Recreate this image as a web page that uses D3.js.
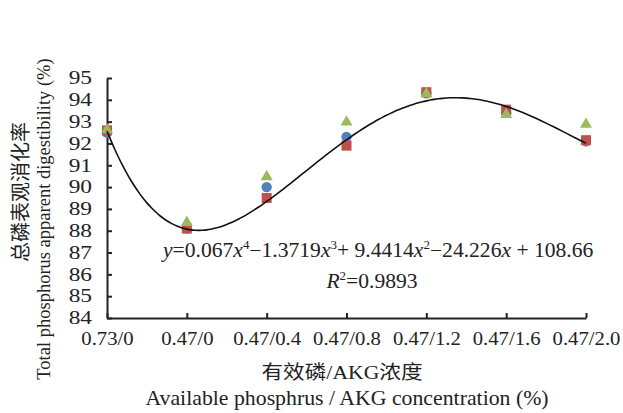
<!DOCTYPE html>
<html>
<head>
<meta charset="utf-8">
<script src="https://cdn.jsdelivr.net/npm/d3@7"></script>
<style>
  body { margin: 0; background: #fff; }
  svg text { font-family: "Liberation Serif", "Times New Roman", "DejaVu Serif", "Noto Sans CJK SC", serif; fill: #222; }
</style>
</head>
<body>
<svg id="chart" width="623" height="413"></svg>
<script>
// categories on the x axis (available P / AKG level)
const categories = ['0.73/0', '0.47/0', '0.47/0.4', '0.47/0.8', '0.47/1.2', '0.47/1.6', '0.47/2.0'];

// three replicates
const seriesBlue = [92.5, 88.1, 90.0, 92.3, 94.3, 93.4, 92.1];
const seriesRed = [92.6, 88.1, 89.5, 91.9, 94.35, 93.55, 92.15];
const seriesGreen = [92.65, 88.4, 90.5, 93.0, 94.3, 93.35, 92.9];

const yTicks = [84, 85, 86, 87, 88, 89, 90, 91, 92, 93, 94, 95];

// trendline y = 0.067x^4 - 1.3719x^3 + 9.4414x^2 - 24.226x + 108.66 (x = 1..7)
const trendCoef = [0.067, -1.3719, 9.4414, -24.226, 108.66];

const svg = d3.select('#chart');

const x = d3.scalePoint().domain(categories).range([107, 586]);
const xIdx = d3.scaleLinear().domain([1, categories.length]).range([107, 586]);
const y = d3.scaleLinear().domain([84, 95]).range([318, 78]);

// axes
const xAxis = svg.append('g')
  .attr('transform', 'translate(0,318)')
  .call(d3.axisBottom(x).tickSizeInner(-5).tickSizeOuter(0).tickPadding(14));
const yAxis = svg.append('g')
  .attr('transform', 'translate(107,0)')
  .call(d3.axisLeft(y).tickValues(yTicks).tickFormat(d3.format('d')).tickSizeInner(-5).tickSizeOuter(0).tickPadding(15));

[xAxis, yAxis].forEach(g => {
  g.attr('font-family', null);
  g.select('.domain').attr('stroke', '#222').attr('stroke-width', 2);
  g.selectAll('.tick line').attr('stroke', '#222').attr('stroke-width', 2);
  g.selectAll('.tick text').attr('fill', '#222');
});
// text in the picture is a bit wide, so stretch it horizontally
xAxis.attr('font-size', 18.5);
xAxis.selectAll('.tick text').attr('transform', 'scale(1.12,1)');
yAxis.attr('font-size', 18);
yAxis.selectAll('.tick text')
  .attr('x', -15 / 1.3)
  .attr('transform', 'scale(1.3,1)');

// markers: circles, then squares, then triangles on top
const plot = svg.append('g');
plot.selectAll('circle').data(seriesBlue).enter().append('circle')
  .attr('cx', (d, i) => x(categories[i]))
  .attr('cy', d => y(d))
  .attr('r', 5.2)
  .attr('fill', '#4f81bd');

plot.selectAll('rect').data(seriesRed).enter().append('rect')
  .attr('x', (d, i) => x(categories[i]) - 5)
  .attr('y', d => y(d) - 5)
  .attr('width', 10)
  .attr('height', 10)
  .attr('fill', '#c0504d');

const tri = d3.symbol().type(d3.symbolTriangle).size(62);
plot.selectAll('path.tri').data(seriesGreen).enter().append('path')
  .attr('class', 'tri')
  .attr('d', tri)
  .attr('transform', (d, i) => `translate(${x(categories[i])},${y(d) + 0.5})`)
  .attr('fill', '#9bbb59');

// polynomial trendline
const poly = t => trendCoef.reduce((acc, c) => acc * t + c, 0);
const steps = d3.range(1, categories.length + 0.001, 0.05);
const line = d3.line()
  .x(t => xIdx(t))
  .y(t => y(poly(t)))
  .curve(d3.curveBasis);
svg.append('path')
  .datum(steps)
  .attr('d', line)
  .attr('fill', 'none')
  .attr('stroke', '#111')
  .attr('stroke-width', 1.6);

// equation
const eq = svg.append('text')
  .attr('transform', 'translate(163,257) scale(1.08,1)')
  .attr('font-size', 20);
const sup = (el, s) => el.append('tspan').attr('dy', -8).attr('font-size', 12).text(s);
const back = el => el.append('tspan').attr('dy', 8);
eq.append('tspan').attr('font-style', 'italic').text('y');
eq.append('tspan').text('=0.067');
eq.append('tspan').attr('font-style', 'italic').text('x');
sup(eq, '4');
back(eq).text('\u22121.3719');
eq.append('tspan').attr('font-style', 'italic').text('x');
sup(eq, '3');
back(eq).text('+ 9.4414');
eq.append('tspan').attr('font-style', 'italic').text('x');
sup(eq, '2');
back(eq).text('\u221224.226');
eq.append('tspan').attr('font-style', 'italic').text('x');
eq.append('tspan').text(' + 108.66');

const r2 = svg.append('text')
  .attr('transform', 'translate(372,288) scale(1.08,1)')
  .attr('text-anchor', 'middle')
  .attr('font-size', 20);
r2.append('tspan').attr('font-style', 'italic').text('R');
sup(r2, '2');
back(r2).text('=0.9893');

// axis titles
svg.append('text')
  .attr('transform', 'translate(342,379) scale(1.14,1)')
  .attr('text-anchor', 'middle')
  .attr('font-size', 19)
  .text('有效磷/AKG浓度');
svg.append('text')
  .attr('transform', 'translate(347,405) scale(1.09,1)')
  .attr('text-anchor', 'middle')
  .attr('font-size', 20)
  .text('Available phosphrus / AKG concentration (%)');

svg.append('text')
  .attr('transform', 'translate(28,192) rotate(-90)')
  .attr('text-anchor', 'middle')
  .attr('font-size', 20)
  .text('总磷表观消化率');
svg.append('text')
  .attr('transform', 'translate(50,219) rotate(-90)')
  .attr('text-anchor', 'middle')
  .attr('font-size', 18.5)
  .text('Total phosphorus apparent digestibility (%)');
</script>
</body>
</html>
